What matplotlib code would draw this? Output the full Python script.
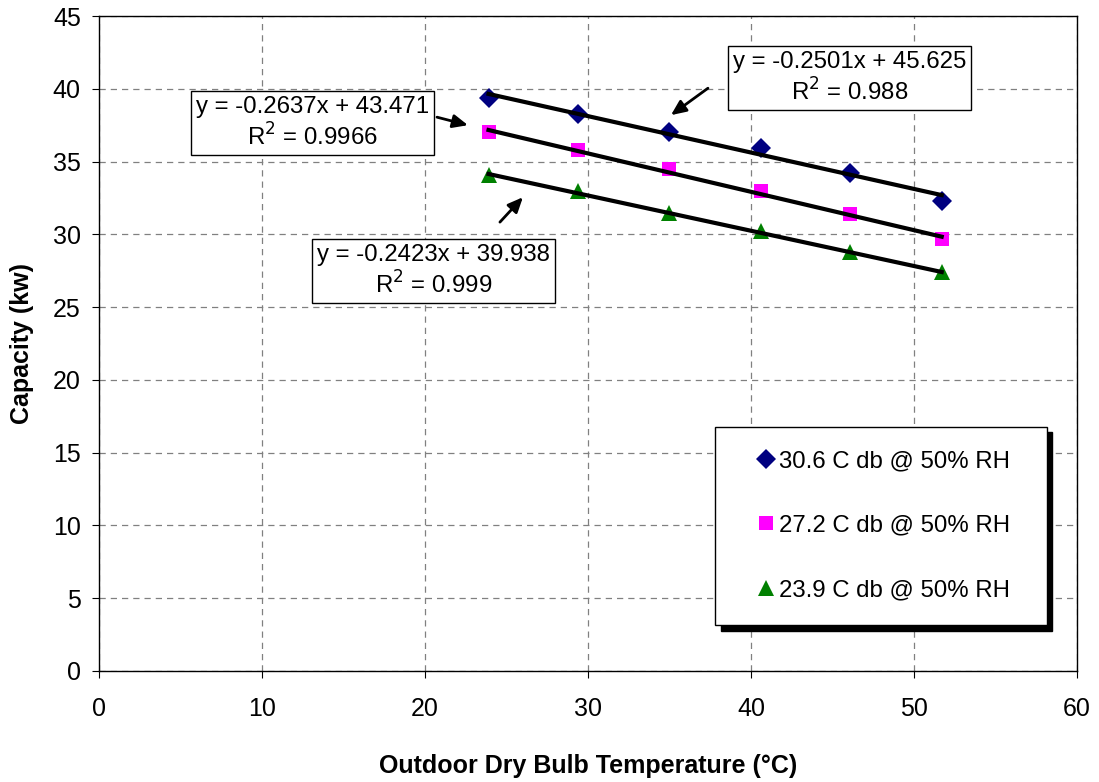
import matplotlib
matplotlib.use("Agg")
import matplotlib.pyplot as plt
import numpy as np

plt.rcParams['font.family'] = ['Liberation Sans', 'DejaVu Sans']

# outdoor dry bulb temperatures (C)
temps = [23.9, 29.4, 35.0, 40.6, 46.1, 51.7]

# capacity (kw) for each indoor condition
cap_306 = [39.35, 38.3, 37.0, 35.9, 34.2, 32.3]
cap_272 = [37.0, 35.8, 34.5, 33.0, 31.4, 29.7]
cap_239 = [34.1, 33.0, 31.5, 30.2, 28.8, 27.4]

labels = ["30.6 C db @ 50% RH", "27.2 C db @ 50% RH", "23.9 C db @ 50% RH"]

# trendline coefficients as shown on the chart
slopes = [-0.2501, -0.2637, -0.2423]
intercepts = [45.625, 43.471, 39.938]
r2 = ["0.988", "0.9966", "0.999"]

fig = plt.figure(figsize=(10.99, 7.82), dpi=100)
ax = fig.add_axes([0.090, 0.142, 0.890, 0.8375])

series = [cap_306, cap_272, cap_239]
markers = ['D', 's', '^']
colors = ['#000080', '#FF00FF', '#008000']
msizes = [10, 10.5, 11]

t = np.array(temps)
for vals, m, c, ms, lab in zip(series, markers, colors, msizes, labels):
    ax.plot(temps, vals, linestyle='none', marker=m, color=c, markersize=ms,
            markeredgewidth=0, label=lab, zorder=3)

for s, b in zip(slopes, intercepts):
    ax.plot(t, s * t + b, color='black', lw=3.0, zorder=4)

ax.set_xlim(0, 60)
ax.set_ylim(0, 45)
ax.set_xticks(range(0, 61, 10))
ax.set_yticks(range(0, 46, 5))
ax.grid(True, linestyle=(0, (5, 4)), color='#808080', lw=0.9)
ax.tick_params(labelsize=18, direction='out', length=5)
ax.tick_params(axis='x', pad=14)
ax.tick_params(axis='y', pad=8)
for sp in ax.spines.values():
    sp.set_color('black')
    sp.set_linewidth(1.0)

ax.set_xlabel("Outdoor Dry Bulb Temperature (°C)", fontsize=18, fontweight='bold', va='center')
ax.set_ylabel("Capacity (kw)", fontsize=18, fontweight='bold', va='center')
ax.xaxis.set_label_coords(0.5, -0.145)
ax.yaxis.set_label_coords(-0.0787, 0.5)

# equation boxes
box_pos = [(46.04, 40.73), (13.1, 37.64), (20.52, 27.47)]
for (x, y), s, b, r in zip(box_pos, slopes, intercepts, r2):
    txt = "y = %sx + %s\nR$^2$ = %s" % (s, b, r)
    ax.text(x, y, txt, fontsize=17.3, ha='center', va='center', multialignment='center',
            linespacing=1.25,
            bbox=dict(boxstyle='square,pad=0.2', fc='white', ec='black', lw=1.0), zorder=5)

# arrows from boxes to lines
arrows = [((37.36, 40.04), (35.09, 38.19)),
          ((20.74, 38.05), (22.64, 37.5)),
          ((24.60, 30.84), (26.01, 32.55))]
for tail, head in arrows:
    ax.annotate('', xy=head, xytext=tail,
                arrowprops=dict(arrowstyle='-|>,head_length=0.9,head_width=0.4',
                                color='black', lw=2.0, shrinkA=0, shrinkB=0), zorder=5)

leg = ax.legend(loc='center', bbox_to_anchor=(0.630, 0.0595, 0.339, 0.324), mode='expand',
                fontsize=17.3, frameon=True, fancybox=False, edgecolor='black',
                framealpha=1, borderpad=1.0, labelspacing=1.75, handlelength=2.25,
                handletextpad=-0.6, borderaxespad=0,
                shadow={'color': 'black', 'alpha': 1, 'ox': 4, 'oy': -4})
leg.get_frame().set_linewidth(1.0)
leg.set_zorder(6)

fig.savefig("out.png", dpi=100)
